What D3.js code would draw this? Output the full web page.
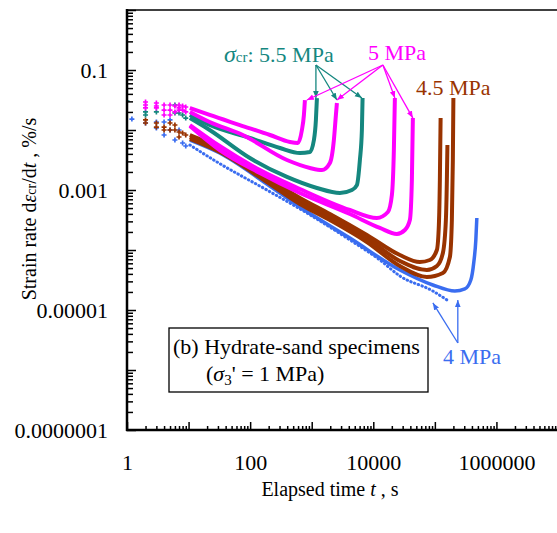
<!DOCTYPE html>
<html>
<head>
<meta charset="utf-8">
<script src="https://cdn.jsdelivr.net/npm/d3@7"></script>
<style>
  body { margin: 0; background: #fff; }
  svg text { font-family: "Liberation Serif", "Times New Roman", serif !important; }
</style>
</head>
<body>
<script>
// tick labels
var xLabels = [1, 100, 10000, 1000000];
var yLabels = [1e-7, 1e-5, 1e-3, 1e-1];

// early readings (discrete columns), [t (s), rate (%/s)]
var magentaEarly = [[2,0.0293],[2,0.0261],[2,0.0233],[3,0.0282],[3,0.0251],[3,0.0233],[4,0.0261],[4,0.0215],[4,0.0178],
  [5,0.0261],[5,0.0215],[5,0.0178],[6,0.0251],[6,0.02],[7,0.0261],[7,0.0233],[7,0.0215],[8,0.0251],[8,0.0215],[9,0.0242],[9,0.02]];
var tealEarly = [[1,0.0304],[2,0.02],[2,0.0178],[3,0.02],[6,0.0261],[6,0.0192],[7,0.0192],[8,0.0178],[9,0.0158]];
var brownEarly = [[2,0.0147],[2,0.0131],[3,0.0131],[3,0.0112],[4,0.0112],[4,0.01],[5,0.0131],[5,0.01],[6,0.0121],[6,0.01],
  [7,0.00926],[7,0.00764],[8,0.00891],[9,0.00825]];
var blueEarly = [[1.2,0.0152],[2,0.0131],[3,0.0136],[3,0.0108],[4,0.0136],[4,0.00825],[5,0.0147],[5,0.01],[6,0.00681],
  [7,0.01],[8,0.00607],[9,0.00541]];

// creep curves, sigma_cr = 5.5 MPa (teal)
var teal1 = [[10.5,0.0178],[22,0.0121],[99,0.00736],[305,0.00501],[643,0.00414],[935,0.0043],[1086,0.00681],[1170,0.0147],[1215,0.0341]];
var teal2 = [[10.5,0.0158],[22,0.01],[99,0.00341],[396,0.00165],[1215,0.00108],[2870,0.000891],[4497,0.001],[5420,0.00121],[6060,0.00316],[6530,0.01],[6700,0.0341]];
// 5 MPa (magenta)
var mag1 = [[10.5,0.0233],[22,0.0178],[68,0.0121],[210,0.00825],[443,0.00631],[597,0.00607],[693,0.01],[747,0.0178],[776,0.0316]];
var mag2 = [[10.5,0.02],[22,0.0136],[76,0.00825],[396,0.00316],[935,0.00233],[1465,0.00215],[1974,0.00282],[2291,0.00681],[2471,0.0178],[2565,0.0282]];
var mag3 = [[10.5,0.0121],[32,0.00541],[144,0.00215],[643,0.00104],[4170,0.000464],[11430,0.000341],[17270,0.00043],[20050,0.000825],[21590,0.00464],[22420,0.0341]];
var mag4 = [[10.5,0.0117],[32,0.00464],[144,0.00192],[643,0.000891],[4170,0.000398],[12790,0.000233],[24160,0.000185],[32600,0.000215],[39270,0.000316],[42340,0.00147],[43950,0.0158]];
// 4.5 MPa (brown)
var brown1 = [[10.5,0.00825],[32,0.00501],[187,0.00158],[643,0.000736],[1974,0.000398],[7870,0.000178],[27040,8.25e-5],[57060,6.31e-5],[82930,6.81e-5],[107800,1.0e-4],[116200,2.61e-4],[120600,0.00147],[124000,0.0158]];
var brown2 = [[10.5,0.00764],[32,0.00464],[187,0.00147],[643,0.000656],[1974,0.000355],[7870,0.000158],[27040,6.56e-5],[74130,4.64e-5],[107800,5.41e-5],[135000,8.91e-5],[151000,3.16e-4],[156700,0.00147],[160000,0.00562]];
var brown3 = [[10.5,0.00708],[32,0.0043],[187,0.00136],[643,0.000585],[1974,0.000316],[7870,0.000136],[27040,5.41e-5],[74130,3.55e-5],[135000,4.14e-5],[175400,7.64e-5],[188900,3.16e-4],[196000,0.00316],[200000,0.0341]];
// 4 MPa (blue)
var blue1 = [[10.5,0.00681],[32,0.00414],[187,0.00126],[643,0.000521],[4170,0.000158],[27040,4.64e-5],[92860,2.61e-5],[211300,2.07e-5],[306900,2.24e-5],[383800,3.16e-5],[429500,6.31e-5],[463000,1.47e-4],[480700,3.41e-4]];
var blue2 = [[10.5,0.00562],[29,0.00293],[187,0.001],[836,0.000414],[4170,0.000147],[12790,6.81e-5],[27040,3.69e-5],[92860,2.07e-5],[156700,1.47e-5]];

// annotation arrows: [from, to] in data units
var tealArrows = [[[1170,0.121],[1170,0.0341]],[[1170,0.121],[2565,0.0316]],[[1170,0.121],[6530,0.0341]]];
var magArrows = [[[14320,0.121],[836,0.0316]],[[14320,0.121],[2565,0.0316]],[[14320,0.121],[22420,0.0341]],[[14320,0.121],[43950,0.0158]]];
var blueArrows = [[[236000,2.82e-6],[92860,1.31e-5]],[[236000,2.82e-6],[236000,1.47e-5]]];

var TEAL = "#15877f", MAG = "#ff00ff", BROWN = "#993300", BLUE = "#3a6df0";

var svg = d3.select("body").append("svg")
  .attr("width", 557)
  .attr("height", 533);

var x = d3.scaleLog().domain([1, 1e7]).range([127, 558]);
var y = d3.scaleLog().domain([1e-7, 1]).range([430, 10]);

function isMajor(d) {
  var e = Math.log10(d);
  return Math.abs(e - Math.round(e)) < 1e-6;
}

// arrow heads
var defs = svg.append("defs");
[["teal", TEAL], ["mag", MAG], ["blue", BLUE]].forEach(function(c) {
  defs.append("marker")
    .attr("id", "ah-" + c[0])
    .attr("viewBox", "0 0 10 10")
    .attr("refX", 10).attr("refY", 5)
    .attr("markerWidth", 7).attr("markerHeight", 7)
    .attr("markerUnits", "userSpaceOnUse")
    .attr("orient", "auto")
    .append("path")
    .attr("d", "M0,1 L10,5 L0,9 z")
    .attr("fill", c[1]);
});

var clip = defs.append("clipPath").attr("id", "plot");
clip.append("rect").attr("x", 127).attr("y", 10).attr("width", 431).attr("height", 420);

var line = d3.line()
  .x(function(d) { return x(d[0]); })
  .y(function(d) { return y(d[1]); })
  .curve(d3.curveMonotoneX);

var plot = svg.append("g").attr("clip-path", "url(#plot)");

function drawCurve(data, color, width, dash) {
  plot.append("path")
    .datum(data)
    .attr("d", line)
    .attr("fill", "none")
    .attr("stroke", color)
    .attr("stroke-width", width)
    .attr("stroke-linejoin", "round")
    .attr("stroke-linecap", dash ? "round" : null)
    .attr("stroke-dasharray", dash || null);
}

function drawEarly(data, color) {
  plot.selectAll(null)
    .data(data)
    .enter()
    .append("path")
    .attr("transform", function(d) { return "translate(" + x(d[0]) + "," + y(d[1]) + ")"; })
    .attr("d", d3.symbol(d3.symbolCross, 14))
    .attr("fill", color);
}

// blue
drawCurve(blue2, BLUE, 3, "0.5 3.5");
drawCurve(blue1, BLUE, 3.5);
drawEarly(blueEarly, BLUE);
// brown
[brown1, brown2, brown3].forEach(function(s) { drawCurve(s, BROWN, 4); });
drawEarly(brownEarly, BROWN);
// teal
[teal1, teal2].forEach(function(s) { drawCurve(s, TEAL, 4); });
drawEarly(tealEarly, TEAL);
// magenta
[mag1, mag2, mag3, mag4].forEach(function(s) { drawCurve(s, MAG, 4); });
drawEarly(magentaEarly, MAG);

// axes
var yMinor = svg.append("g")
  .attr("transform", "translate(127,0)")
  .call(d3.axisLeft(y).tickValues(y.ticks().filter(function(d) { return !isMajor(d); })).tickSize(-6).tickFormat(""));
var yMajor = svg.append("g")
  .attr("transform", "translate(127,0)")
  .call(d3.axisLeft(y)
    .tickValues(y.ticks().filter(isMajor))
    .tickSize(-9)
    .tickPadding(19)
    .tickFormat(function(d) {
      var e = Math.round(Math.log10(d));
      return yLabels.some(function(v) { return Math.round(Math.log10(v)) === e; }) ? d.toFixed(-e) : "";
    }));

var xMinor = svg.append("g")
  .attr("transform", "translate(0,430)")
  .call(d3.axisBottom(x).tickValues(x.ticks().filter(function(d) { return !isMajor(d); })).tickSize(-4).tickFormat(""));
var xMajor = svg.append("g")
  .attr("transform", "translate(0,430)")
  .call(d3.axisBottom(x)
    .tickValues(x.ticks().filter(isMajor))
    .tickSize(-8)
    .tickPadding(24)
    .tickFormat(function(d) {
      var e = Math.round(Math.log10(d));
      return xLabels.some(function(v) { return Math.round(Math.log10(v)) === e; }) ? String(Math.pow(10, e)) : "";
    }));

[yMinor, yMajor, xMinor, xMajor].forEach(function(g) {
  g.attr("font-family", null);
  g.select(".domain").remove();
  g.selectAll(".tick line").attr("stroke", "#000").attr("stroke-width", 1.5);
  g.selectAll(".tick text").attr("fill", "#000").style("font-size", "22px");
});

// frame lines
svg.append("line").attr("x1", 127).attr("x2", 127).attr("y1", 9).attr("y2", 431)
  .attr("stroke", "#000").attr("stroke-width", 2.5);
svg.append("line").attr("x1", 126).attr("x2", 557).attr("y1", 430).attr("y2", 430)
  .attr("stroke", "#000").attr("stroke-width", 2.5);
svg.append("line").attr("x1", 126).attr("x2", 557).attr("y1", 10).attr("y2", 10)
  .attr("stroke", "#000").attr("stroke-width", 1.5);

// annotation arrows
function drawArrows(list, color, id) {
  svg.selectAll(null)
    .data(list)
    .enter()
    .append("line")
    .attr("x1", function(d) { return x(d[0][0]); })
    .attr("y1", function(d) { return y(d[0][1]); })
    .attr("x2", function(d) { return x(d[1][0]); })
    .attr("y2", function(d) { return y(d[1][1]); })
    .attr("stroke", color)
    .attr("stroke-width", 1.3)
    .attr("marker-end", "url(#ah-" + id + ")");
}
drawArrows(tealArrows, TEAL, "teal");
drawArrows(magArrows, MAG, "mag");
drawArrows(blueArrows, BLUE, "blue");

// annotation labels
var tl = svg.append("text").attr("x", 224).attr("y", 62).attr("fill", TEAL).style("font-size", "22px");
tl.append("tspan").style("font-style", "italic").style("font-size", "24px").text("σ");
tl.append("tspan").style("font-size", "15px").text("cr");
tl.append("tspan").text(": 5.5 MPa");

svg.append("text").attr("x", 368).attr("y", 60).attr("fill", MAG).style("font-size", "22px").text("5 MPa");
svg.append("text").attr("x", 416).attr("y", 95).attr("fill", BROWN).style("font-size", "22px").text("4.5 MPa");
svg.append("text").attr("x", 443).attr("y", 364).attr("fill", BLUE).style("font-size", "22px").text("4 MPa");

// legend box
svg.append("rect").attr("x", 169).attr("y", 328).attr("width", 259).attr("height", 64)
  .attr("fill", "#fff").attr("stroke", "#000").attr("stroke-width", 1.3);
svg.append("text").attr("x", 173).attr("y", 354).style("font-size", "22px").text("(b) Hydrate-sand specimens");
var l2 = svg.append("text").attr("x", 206).attr("y", 381).style("font-size", "22px");
l2.append("tspan").text("(");
l2.append("tspan").style("font-style", "italic").text("σ");
l2.append("tspan").attr("dy", 4).style("font-size", "15px").text("3");
l2.append("tspan").attr("dy", -4).text("' = 1 MPa)");

// axis titles
var xt = svg.append("text").attr("x", 330).attr("y", 496).attr("text-anchor", "middle").style("font-size", "20px");
xt.append("tspan").text("Elapsed time ");
xt.append("tspan").style("font-style", "italic").text("t");
xt.append("tspan").text(" , s");

var yt = svg.append("text").attr("transform", "translate(36,209) rotate(-90)").attr("text-anchor", "middle").style("font-size", "20px");
yt.append("tspan").text("Strain rate d");
yt.append("tspan").style("font-style", "italic").text("ε");
yt.append("tspan").style("font-size", "14px").text("cr");
yt.append("tspan").text("/d");
yt.append("tspan").style("font-style", "italic").text("t");
yt.append("tspan").text(" ,  %/s");
</script>
</body>
</html>
